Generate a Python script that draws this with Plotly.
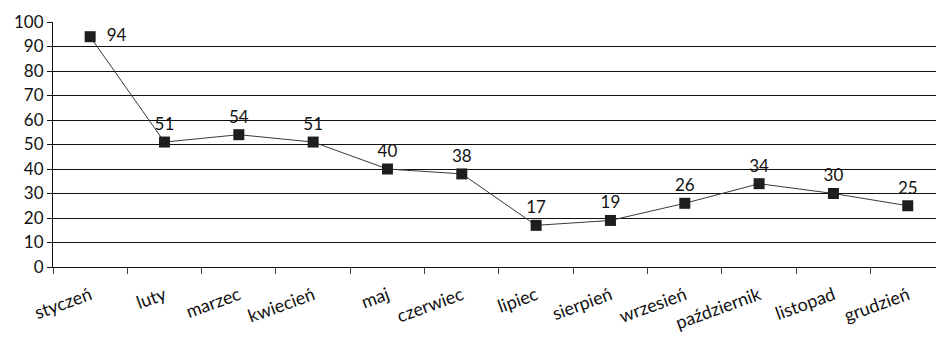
import plotly.graph_objects as go

months = ["styczeń", "luty", "marzec", "kwiecień", "maj", "czerwiec",
          "lipiec", "sierpień", "wrzesień", "październik", "listopad", "grudzień"]
values = [94, 51, 54, 51, 40, 38, 17, 19, 26, 34, 30, 25]
y_ticks = list(range(0, 101, 10))

# first label sits to the right of its point, the rest above
label_pos = ["middle right"] + ["top center"] * (len(values) - 1)
label_text = ["  " + str(values[0])] + [str(v) for v in values[1:]]

font_family = "Lato, Open Sans, sans-serif"

fig = go.Figure()
fig.add_trace(go.Scatter(
    x=months,
    y=values,
    mode="lines+markers+text",
    line=dict(color="#3a3a3a", width=1),
    marker=dict(symbol="square", size=11, color="#1e1e1e"),
    text=label_text,
    textposition=label_pos,
    textfont=dict(family=font_family, size=17, color="#111111"),
    cliponaxis=False,
    showlegend=False,
))

fig.update_layout(
    width=936,
    height=341,
    margin=dict(l=53, r=0, t=22, b=74),
    paper_bgcolor="white",
    plot_bgcolor="white",
    font=dict(family=font_family, size=15, color="#111111"),
    xaxis=dict(
        type="category",
        range=[-0.5, 11.38],
        tickangle=-20,
        tickson="boundaries",
        ticks="outside",
        ticklen=6,
        tickcolor="#444444",
        ticklabelstandoff=10,
        showline=True,
        linecolor="#111111",
        linewidth=1,
        showgrid=False,
        tickfont=dict(family=font_family, size=18),
    ),
    yaxis=dict(
        range=[0, 100],
        tickvals=y_ticks,
        ticks="outside",
        ticklen=5,
        tickcolor="#111111",
        showline=True,
        linecolor="#111111",
        linewidth=1,
        showgrid=True,
        gridcolor="#111111",
        gridwidth=1,
        zeroline=False,
        tickfont=dict(family=font_family, size=17),
    ),
)

fig.write_html("out.html")
